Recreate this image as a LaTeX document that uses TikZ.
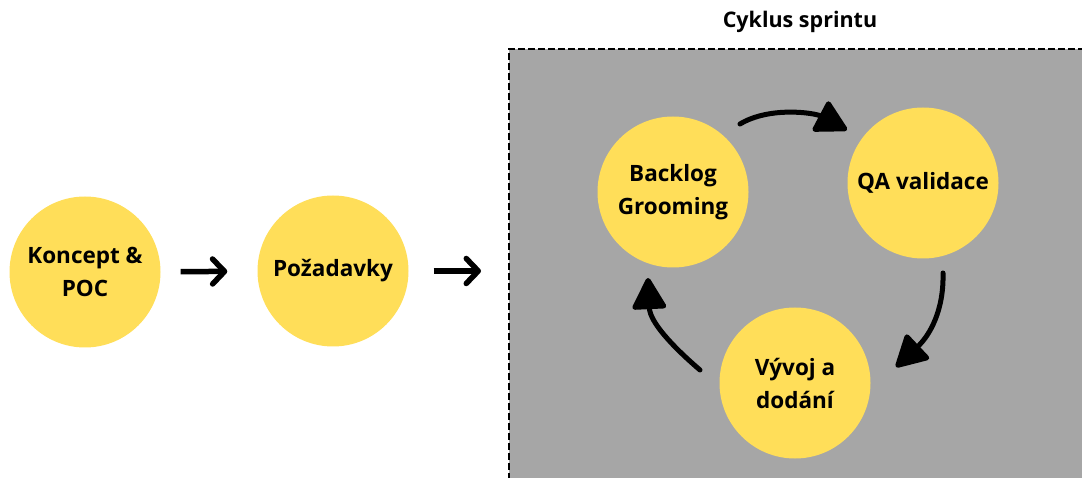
\documentclass[tikz,border=0pt]{standalone}
\usepackage{fontspec}
\setmainfont{Open Sans}
\usetikzlibrary{arrows.meta}
\definecolor{phase}{HTML}{FFDE59}
\definecolor{sprintbg}{HTML}{A6A6A6}
\tikzset{
  phasenode/.style={circle, fill=phase, minimum size=151pt, inner sep=0pt,
    align=center, font=\fontsize{22.5}{33}\selectfont\bfseries},
  flowarrow/.style={line width=5.5pt, -{Straight Barb[length=12pt,width=25pt,round]}},
  cyclearrow/.style={line width=5pt, line cap=round,
    -{Triangle[length=34pt,width=36pt,round]}}
}
\begin{document}
\begin{tikzpicture}[x=1pt,y=-1pt]
\useasboundingbox (0,0) rectangle (1082,478);
\clip (0,0) rectangle (1082,478);

% sprint area
\node[draw=black, fill=sprintbg, dash pattern=on 7pt off 3pt, line width=2pt,
      minimum width=620pt, minimum height=446pt, anchor=north west, inner sep=0pt]
      (sprint) at (508,48) {};
\node[font=\fontsize{21.5}{24}\selectfont\bfseries] (title) at (800,22) {Cyklus sprintu};

% phases
\node[phasenode] (koncept) at (85,272) {Koncept \&\\POC};
\node[phasenode] (pozadavky) at (333,271) {Požadavky};
\node[phasenode] (backlog) at (673,192) {Backlog\\Grooming};
\node[phasenode] (qa) at (923,183) {QA validace};
\node[phasenode] (vyvoj) at (795,383) {Vývoj a\\dodání};

% flow into the sprint
\draw[flowarrow, shorten <=20pt, shorten >=30pt] (koncept) -- (pozadavky);
\draw[flowarrow, shorten <=25pt, shorten >=27pt] (pozadavky) -- (pozadavky -| sprint.west);

% sprint cycle
\coordinate (c1s) at (740,124);
\coordinate (c1e) at (847,130);
\coordinate (c2s) at (943,273);
\coordinate (c2e) at (896,367);
\coordinate (c3s) at (700,370);
\coordinate (c3e) at (648,278);
\draw[cyclearrow] (c1s) .. controls (770,106) and (815,113) .. (c1e);
\draw[cyclearrow] (c2s) .. controls (944,310) and (930,335) .. (c2e);
\draw[cyclearrow] (c3s) .. controls (672,346) and (650,322) .. (c3e);
\end{tikzpicture}
\end{document}
